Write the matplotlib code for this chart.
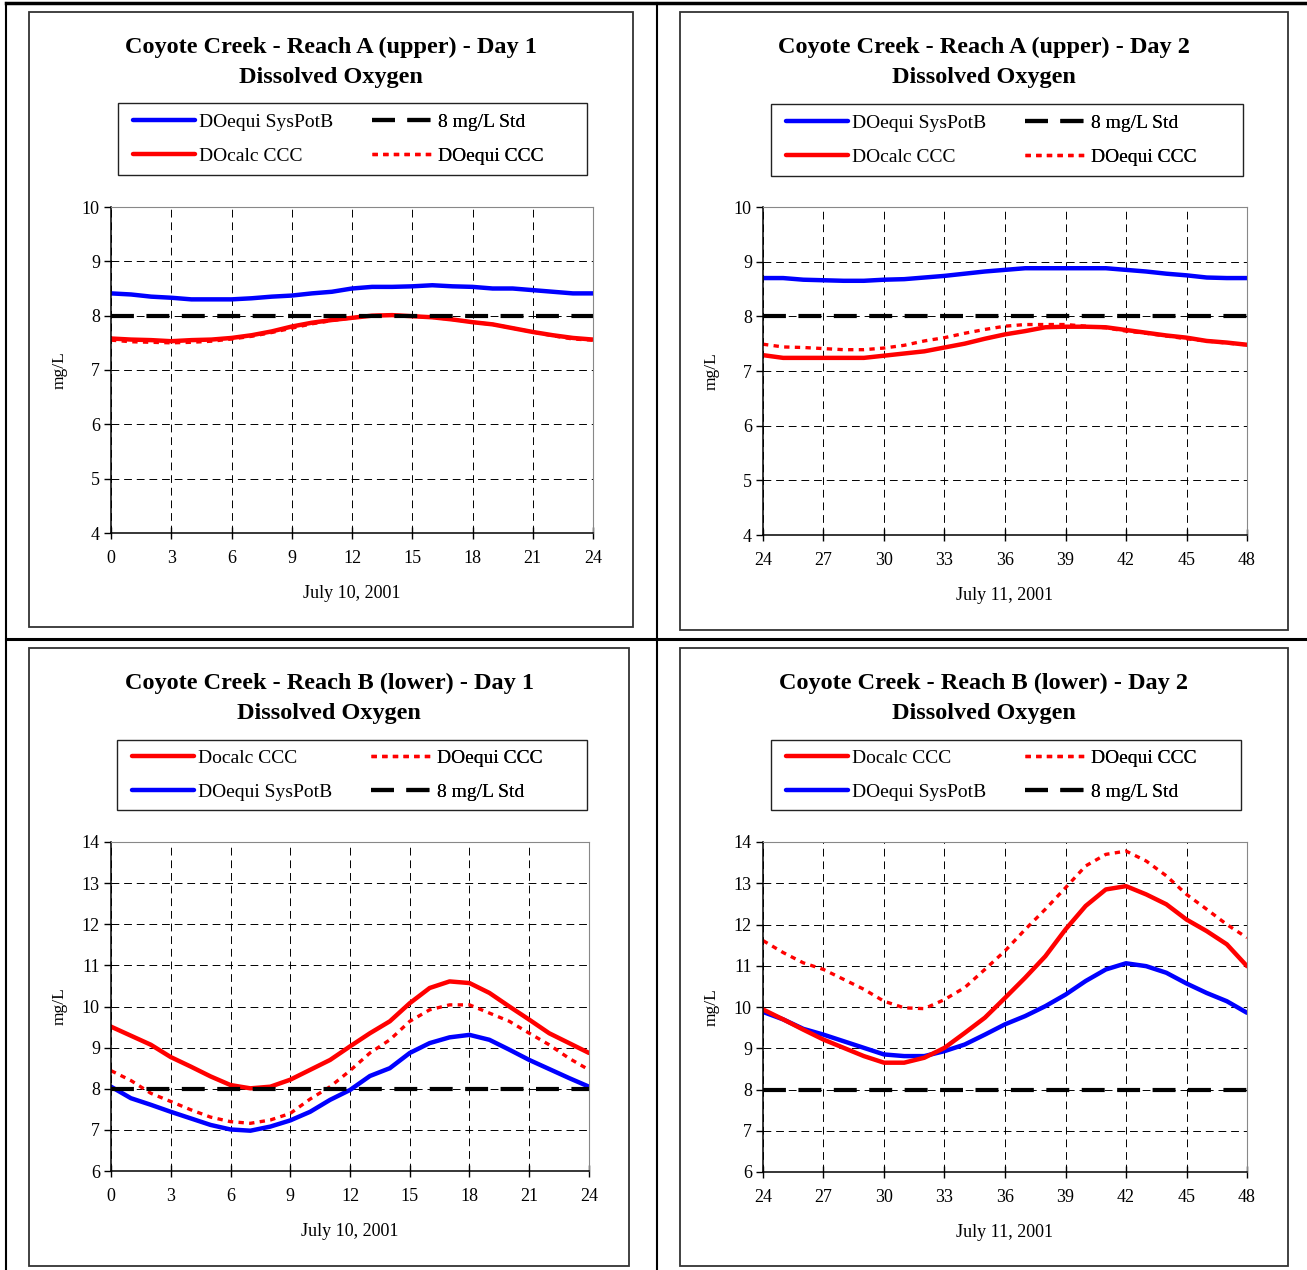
import matplotlib
matplotlib.use("Agg")
import matplotlib.pyplot as plt
from matplotlib.lines import Line2D
from matplotlib.patches import Rectangle

plt.rcParams['font.family'] = ['Liberation Serif', 'DejaVu Serif']

W, H = 1307, 1270

# hours since midnight, July 10 2001
hours_day1 = list(range(0, 25))
hours_day2 = list(range(24, 49))
x_ticks_day1 = list(range(0, 25, 3))
x_ticks_day2 = list(range(24, 49, 3))
STD = 8.0

# Reach A (upper), day 1
a1_sys = [8.41, 8.39, 8.35, 8.33, 8.30, 8.30, 8.30, 8.32, 8.35, 8.37, 8.41, 8.44, 8.50,
          8.53, 8.53, 8.54, 8.56, 8.54, 8.53, 8.50, 8.50, 8.47, 8.44, 8.41, 8.41]
a1_calc = [7.58, 7.56, 7.55, 7.53, 7.55, 7.56, 7.59, 7.64, 7.71, 7.80, 7.87, 7.92, 7.96,
           8.00, 8.01, 7.99, 7.97, 7.93, 7.88, 7.84, 7.77, 7.70, 7.64, 7.59, 7.56]
a1_equi = [7.55, 7.52, 7.51, 7.50, 7.51, 7.53, 7.57, 7.62, 7.69, 7.77, 7.85, 7.91, 7.96,
           8.00, 8.01, 7.99, 7.97, 7.93, 7.88, 7.84, 7.77, 7.70, 7.63, 7.57, 7.55]

# Reach A (upper), day 2
a2_sys = [8.70, 8.70, 8.67, 8.66, 8.65, 8.65, 8.67, 8.68, 8.71, 8.74, 8.78, 8.82, 8.85,
          8.88, 8.88, 8.88, 8.88, 8.88, 8.85, 8.82, 8.78, 8.75, 8.71, 8.70, 8.70]
a2_calc = [7.29, 7.24, 7.24, 7.24, 7.24, 7.24, 7.28, 7.32, 7.36, 7.43, 7.50, 7.59, 7.67,
           7.73, 7.80, 7.81, 7.81, 7.80, 7.75, 7.70, 7.65, 7.61, 7.55, 7.52, 7.48]
a2_equi = [7.49, 7.44, 7.43, 7.41, 7.39, 7.39, 7.42, 7.47, 7.55, 7.61, 7.69, 7.76, 7.82,
           7.85, 7.85, 7.85, 7.82, 7.79, 7.73, 7.69, 7.64, 7.59, 7.55, 7.51, 7.48]

# Reach B (lower), day 1
b1_calc = [9.51, 9.29, 9.07, 8.77, 8.54, 8.30, 8.09, 8.01, 8.05, 8.22, 8.46, 8.70, 9.03,
           9.35, 9.64, 10.08, 10.45, 10.61, 10.57, 10.33, 10.00, 9.68, 9.35, 9.11, 8.87]
b1_equi = [8.44, 8.20, 7.89, 7.69, 7.49, 7.31, 7.20, 7.16, 7.24, 7.40, 7.75, 8.05, 8.44,
           8.87, 9.19, 9.64, 9.92, 10.04, 10.04, 9.84, 9.64, 9.35, 9.07, 8.74, 8.46]
b1_sys = [8.05, 7.77, 7.61, 7.44, 7.28, 7.12, 7.01, 6.98, 7.08, 7.23, 7.44, 7.73, 7.97,
          8.31, 8.50, 8.87, 9.11, 9.25, 9.31, 9.19, 8.95, 8.70, 8.48, 8.26, 8.05]

# Reach B (lower), day 2
b2_calc = [9.94, 9.70, 9.45, 9.21, 9.01, 8.81, 8.65, 8.65, 8.77, 9.01, 9.37, 9.74, 10.22,
           10.71, 11.23, 11.88, 12.45, 12.85, 12.93, 12.73, 12.49, 12.12, 11.84, 11.52, 10.99]
b2_equi = [11.61, 11.32, 11.07, 10.91, 10.67, 10.43, 10.14, 9.98, 9.96, 10.18, 10.47, 10.91, 11.36,
           11.88, 12.37, 12.89, 13.42, 13.70, 13.78, 13.54, 13.18, 12.73, 12.37, 12.00, 11.68]
b2_sys = [9.88, 9.70, 9.47, 9.33, 9.17, 9.01, 8.85, 8.81, 8.81, 8.93, 9.09, 9.33, 9.58,
          9.78, 10.02, 10.30, 10.63, 10.91, 11.06, 10.99, 10.83, 10.57, 10.34, 10.14, 9.86]

STYLE_SYS = dict(color='#0000ff', lw=3.2, solid_capstyle='round', solid_joinstyle='round')
STYLE_CALC = dict(color='#ff0000', lw=3.2, solid_capstyle='round', solid_joinstyle='round')
STYLE_EQUI = dict(color='#ff0000', lw=2.4, linestyle=(0, (1.6, 1.6)))
STYLE_STD = dict(color='black', lw=3.0, linestyle=(0, (5.5, 3.0)))


def fx(x):
    return x / W


def fy(y):
    return 1 - y / H


def draw_panel(fig, box, plot, title, day, ylim, xlabel, hours, series, legend_cols, legend_box):
    # outer chart frame
    bx0, by0, bx1, by1 = box
    fig.patches.append(Rectangle((fx(bx0), fy(by1)), fx(bx1 - bx0), (by1 - by0) / H,
                                 transform=fig.transFigure, fill=False,
                                 edgecolor='#333333', lw=1.3))
    cx = (bx0 + bx1) / 2
    fig.text(fx(cx), fy(by0 + 35), title, ha='center', va='center',
             fontsize=17.5, fontweight='bold')
    fig.text(fx(cx), fy(by0 + 65), 'Dissolved Oxygen', ha='center', va='center',
             fontsize=17.5, fontweight='bold')

    x0, y0, x1, y1 = plot
    ax = fig.add_axes([fx(x0), fy(y1), fx(x1 - x0), (y1 - y0) / H])
    lines = {}
    for key, ys, style in series:
        ln, = ax.plot(hours, ys, **style)
        lines[key] = ln
    ln, = ax.plot(hours, [STD] * len(hours), **STYLE_STD)
    lines['std'] = ln

    ax.set_xlim(hours[0], hours[-1])
    ax.set_ylim(*ylim)
    ax.set_xticks(day)
    ax.set_yticks(range(ylim[0], ylim[1] + 1))
    ax.grid(True, color='black', lw=0.7, linestyle=(0, (8, 5)))
    ax.set_axisbelow(True)
    for side in ('top', 'right'):
        ax.spines[side].set_color('#888888')
        ax.spines[side].set_linewidth(0.8)
    for side in ('left', 'bottom'):
        ax.spines[side].set_color('black')
        ax.spines[side].set_linewidth(1.1)
    ax.tick_params(axis='x', direction='inout', length=8, width=1, labelsize=13, pad=8)
    ax.tick_params(axis='y', direction='out', length=5, width=1, labelsize=13, pad=3)
    ax.set_ylabel('mg/L', fontsize=12.5, labelpad=10)
    ax.set_xlabel(xlabel, fontsize=13, labelpad=13)

    # legend frame and two legend columns
    lx0, ly0, lx1, ly1 = legend_box
    fig.patches.append(Rectangle((fx(lx0), fy(ly1)), fx(lx1 - lx0), (ly1 - ly0) / H,
                                 transform=fig.transFigure, fill=False,
                                 edgecolor='#222222', lw=1.0))
    ymid = (ly0 + ly1) / 2
    for col_x, entries in zip((lx0 + 15, lx0 + 254), legend_cols):
        handles = [lines[k] for k, _ in entries]
        labels = [lab for _, lab in entries]
        leg = ax.legend(handles, labels, loc='center left',
                        bbox_to_anchor=(fx(col_x), fy(ymid)),
                        bbox_transform=fig.transFigure, frameon=False,
                        fontsize=14, handlelength=3.2, handletextpad=0.2,
                        borderpad=0, borderaxespad=0, labelspacing=0.83)
        ax.add_artist(leg)
    return ax


fig = plt.figure(figsize=(W / 100, H / 100), dpi=100)

# table grid lines
fig.add_artist(Line2D([fx(6), 1], [fy(3), fy(3)], color='black', lw=2.5))
fig.add_artist(Line2D([fx(6), 1], [fy(639), fy(639)], color='black', lw=2.2))
fig.add_artist(Line2D([fx(6), fx(6)], [0, fy(3)], color='black', lw=1.5))
fig.add_artist(Line2D([fx(657), fx(657)], [0, fy(3)], color='black', lw=1.5))

legend_a = [[('sys', 'DOequi SysPotB'), ('calc', 'DOcalc CCC')],
            [('std', '8 mg/L Std'), ('equi', 'DOequi CCC')]]
legend_b = [[('calc', 'Docalc CCC'), ('sys', 'DOequi SysPotB')],
            [('equi', 'DOequi CCC'), ('std', '8 mg/L Std')]]

draw_panel(fig, (29, 12, 633, 627), (111, 207, 593, 533),
           'Coyote Creek - Reach A (upper) - Day 1', x_ticks_day1, (4, 10),
           'July 10, 2001', hours_day1,
           [('sys', a1_sys, STYLE_SYS), ('equi', a1_equi, STYLE_EQUI), ('calc', a1_calc, STYLE_CALC)],
           legend_a, (118, 103, 587, 175))

draw_panel(fig, (680, 12, 1288, 630), (763, 207, 1247, 535),
           'Coyote Creek - Reach A (upper) - Day 2', x_ticks_day2, (4, 10),
           'July 11, 2001', hours_day2,
           [('sys', a2_sys, STYLE_SYS), ('equi', a2_equi, STYLE_EQUI), ('calc', a2_calc, STYLE_CALC)],
           legend_a, (771, 104, 1243, 176))

draw_panel(fig, (29, 648, 629, 1266), (111, 842, 589, 1171),
           'Coyote Creek - Reach B (lower) - Day 1', x_ticks_day1, (6, 14),
           'July 10, 2001', hours_day1,
           [('sys', b1_sys, STYLE_SYS), ('equi', b1_equi, STYLE_EQUI), ('calc', b1_calc, STYLE_CALC)],
           legend_b, (117, 740, 587, 810))

draw_panel(fig, (680, 648, 1288, 1266), (763, 842, 1247, 1172),
           'Coyote Creek - Reach B (lower) - Day 2', x_ticks_day2, (6, 14),
           'July 11, 2001', hours_day2,
           [('sys', b2_sys, STYLE_SYS), ('equi', b2_equi, STYLE_EQUI), ('calc', b2_calc, STYLE_CALC)],
           legend_b, (771, 740, 1241, 810))

fig.savefig('out.png', dpi=100)
